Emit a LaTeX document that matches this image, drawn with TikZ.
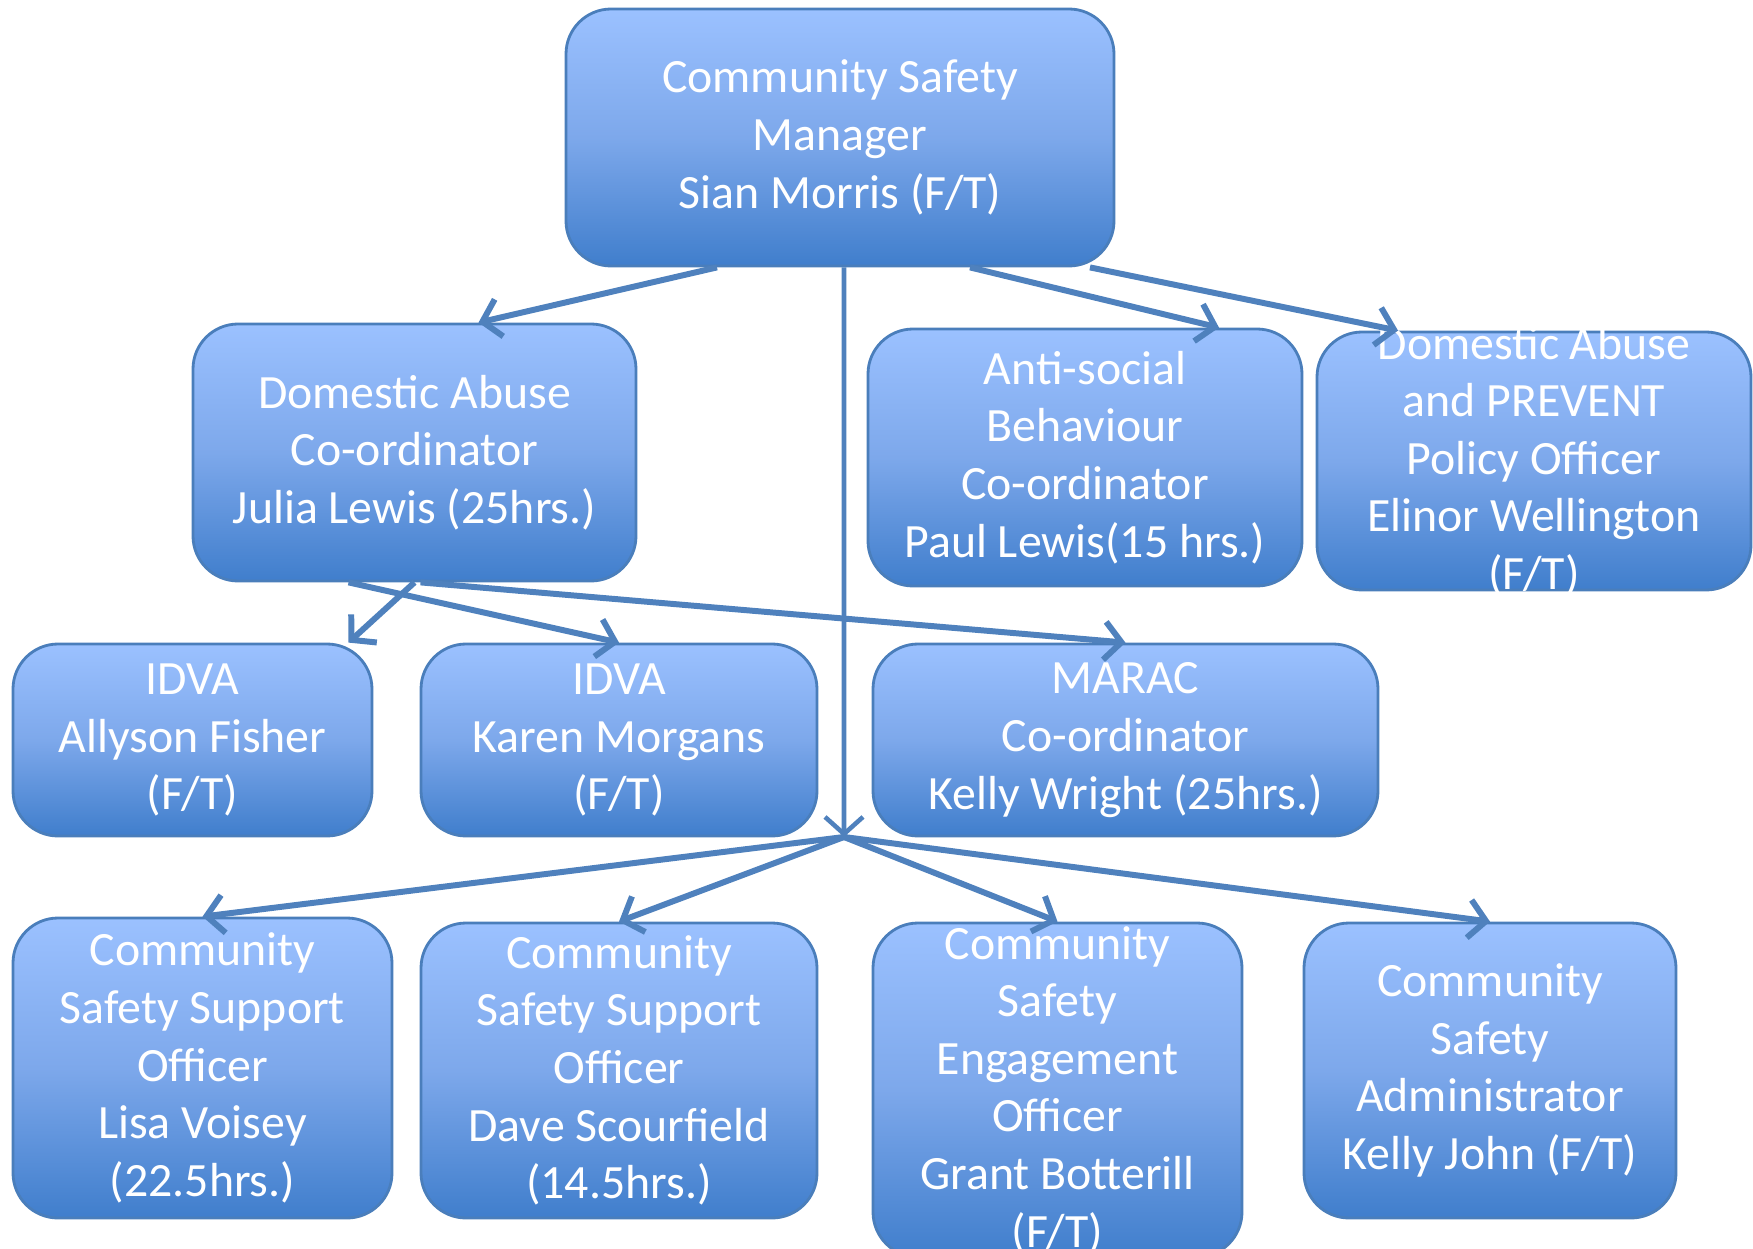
\documentclass[tikz,border=0pt]{standalone}
\usepackage{fontspec}
\setmainfont{Carlito}
\usetikzlibrary{arrows.meta}
\definecolor{boxtop}{RGB}{155,193,255}
\definecolor{boxmid}{RGB}{125,168,235}
\definecolor{boxbot}{RGB}{64,126,204}
\definecolor{boxline}{RGB}{74,126,187}
\definecolor{linkblue}{RGB}{79,129,189}
\tikzset{
  post/.style={draw=boxline, line width=0.8pt, rounded corners=4.5mm,
    top color=boxtop, bottom color=boxbot, middle color=boxmid,
    text=white, align=center, inner sep=0pt,
    font=\fontsize{13.6}{16.4}\selectfont,
    execute at begin node={\rule{0pt}{12pt}}},
  link/.style={draw=linkblue, line width=1.7pt,
    -{Straight Barb[length=1.7mm,width=3.8mm]}}
}
\begin{document}
\begin{tikzpicture}[x=0.1mm, y=-0.1mm]
      \useasboundingbox (0,0) rectangle (1753,1249);

      \node[post, minimum width=54.8mm, minimum height=25.7mm] (mgr) at (840,137.5) {Community Safety\\Manager\\Sian Morris (F/T)};

      \node[post, minimum width=44.3mm, minimum height=25.7mm] (dac) at (414.5,452.5) {Domestic Abuse\\Co-ordinator\\Julia Lewis (25hrs.)};
      \node[post, minimum width=43.4mm, minimum height=25.7mm] (asb) at (1085,457.5) {Anti-social\\Behaviour\\Co-ordinator\\Paul Lewis(15 hrs.)};
      \node[post, minimum width=43.4mm, minimum height=25.8mm, inner ysep=-1.5mm] (dap) at (1534,461) {Domestic Abuse\\and PREVENT\\Policy Officer\\Elinor Wellington\\(F/T)};

      \node[post, minimum width=35.9mm, minimum height=19.2mm] (idva1) at (192.5,740) {IDVA\\Allyson Fisher\\(F/T)};
      \node[post, minimum width=39.6mm, minimum height=19.2mm] (idva2) at (619,740) {IDVA\\Karen Morgans\\(F/T)};
      \node[post, minimum width=50.5mm, minimum height=19.2mm] (marac) at (1125.5,740) {MARAC\\Co-ordinator\\Kelly Wright (25hrs.)};

      \node[post, minimum width=37.9mm, minimum height=30mm] (csso1) at (202.5,1068) {Community\\Safety Support\\Officer\\Lisa Voisey\\(22.5hrs.)};
      \node[post, minimum width=39.6mm, minimum height=29.5mm] (csso2) at (619,1070.5) {Community\\Safety Support\\Officer\\Dave Scourfield\\(14.5hrs.)};
      \node[post, minimum width=36.9mm, minimum height=33.4mm] (cseo) at (1057.5,1090) {Community\\Safety\\Engagement\\Officer\\Grant Botterill\\(F/T)};
      \node[post, minimum width=37.2mm, minimum height=29.5mm] (csa) at (1490,1070.5) {Community\\Safety\\Administrator\\Kelly John (F/T)};

      \coordinate (hub) at (844,837);

      \draw[link] ([xshift=-12.3mm]mgr.south) -- ([xshift=6.4mm]dac.north);
      \draw[link] ([xshift=13mm]mgr.south) -- ([xshift=13.4mm]asb.north);
      \draw[link] ([xshift=25mm]mgr.south) -- ([xshift=-13.6mm]dap.north);
      \draw[link, line width=1.3pt] ([xshift=0.4mm]mgr.south) -- (hub);

      \draw[link] (dac.south) -- ([xshift=15.6mm]idva1.north);
      \draw[link] ([xshift=-6.6mm]dac.south) -- (idva2.north);
      \draw[link] ([xshift=0.6mm]dac.south) -- (marac.north);

      \draw[link] (hub) -- (csso1.north);
      \draw[link] (hub) -- (csso2.north);
      \draw[link] (hub) -- (cseo.north);
      \draw[link] (hub) -- (csa.north);
\end{tikzpicture}
\end{document}
